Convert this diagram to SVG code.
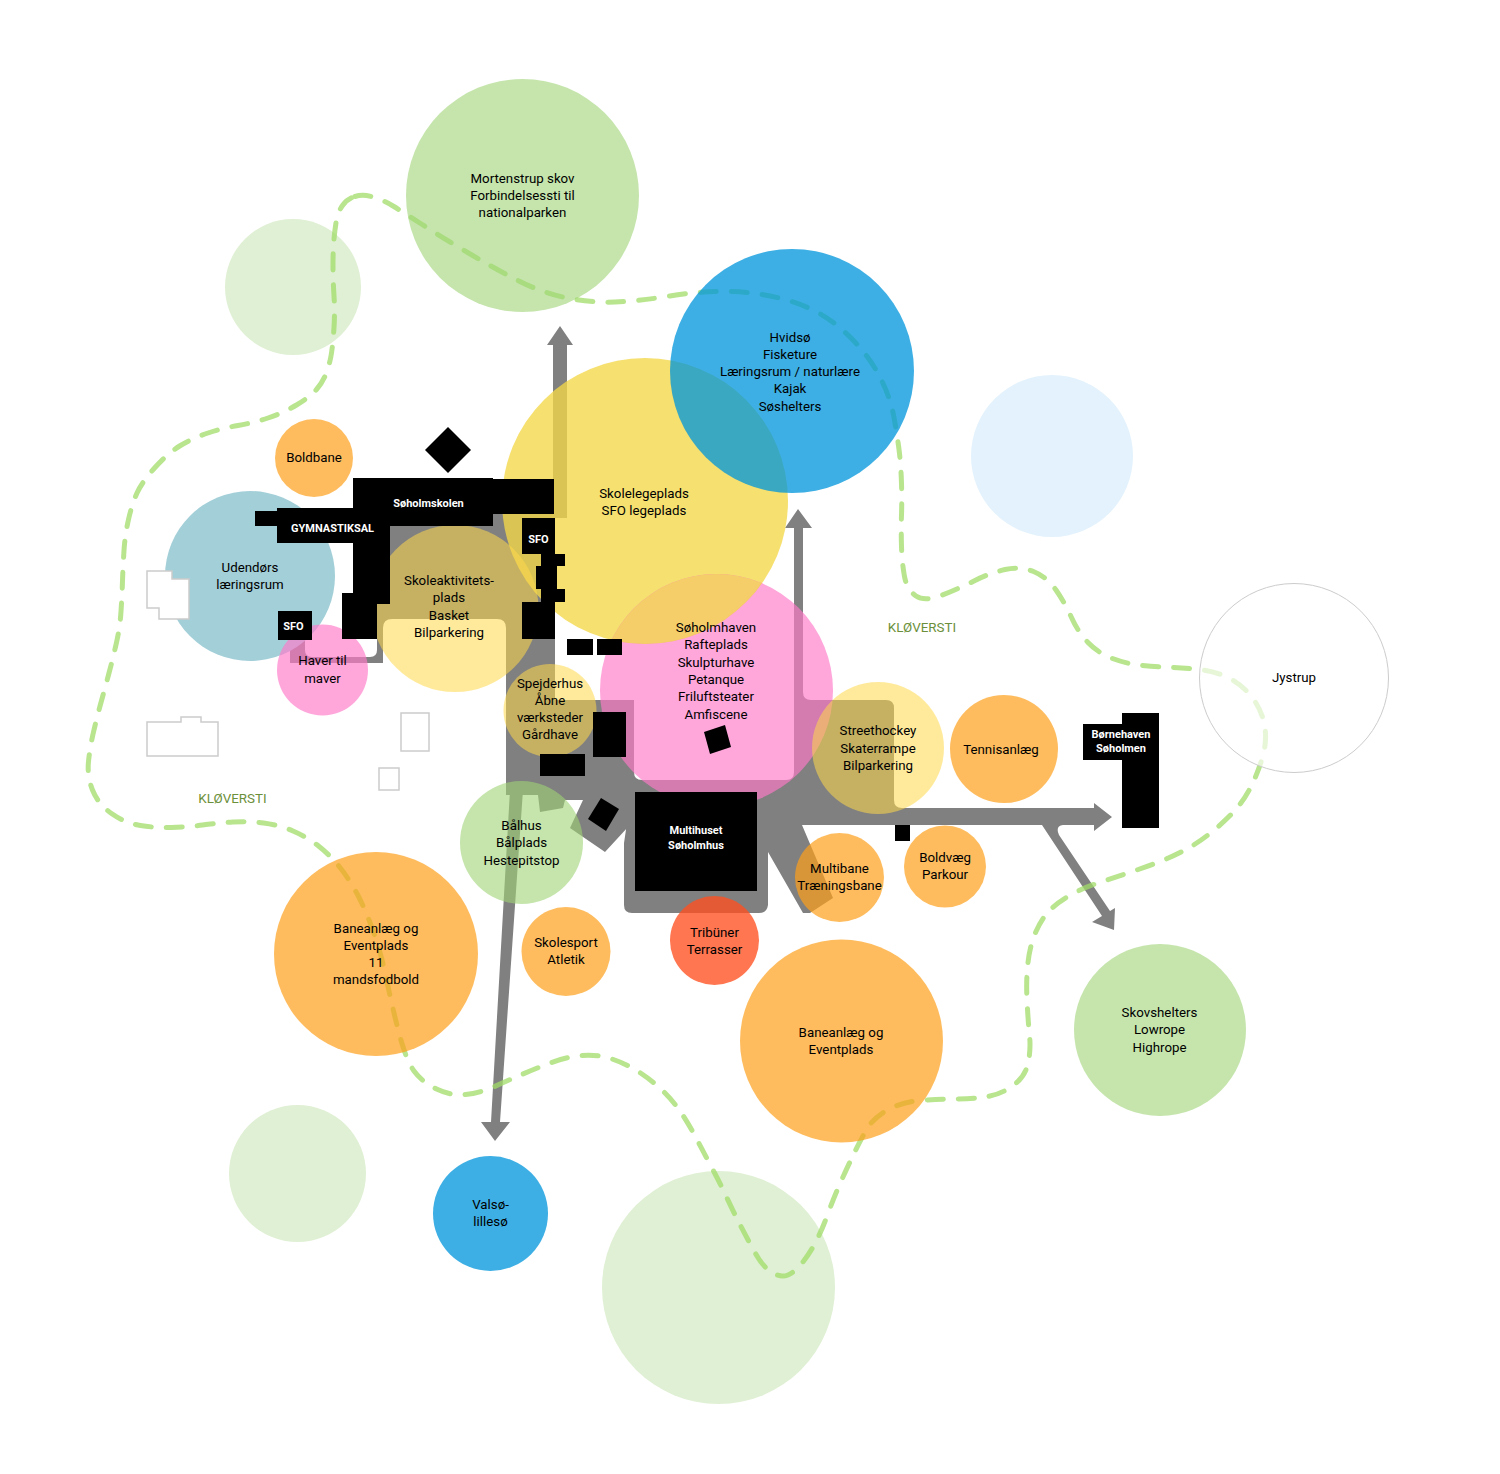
<svg xmlns="http://www.w3.org/2000/svg" width="1500" height="1474" viewBox="0 0 1500 1474">
<style>
text{font-family:Roboto,"Liberation Sans",sans-serif;font-size:13.3px;fill:#000;text-anchor:middle;transform:translateY(-.8px)}
.w{fill:#fff;font-weight:700;font-size:11px;transform:translateY(-.4px)}
.kl{fill:#6b8f3a;font-size:13.4px;transform:none}
.pg{fill:#e0f0d4}
.g{fill:#9fd475;fill-opacity:.6}
.b{fill:#0096dc;fill-opacity:.76}
.y{fill:#f2d748;fill-opacity:.78}
.yl{fill:#ffd84a;fill-opacity:.55}
.p{fill:#ff78c8;fill-opacity:.66}
.o{fill:#fd9f1a;fill-opacity:.7}
.bk{fill:#000}
.ol{fill:#fff;stroke:#ccc;stroke-width:1.5}
</style>
<defs><clipPath id="yellow-clip"><circle cx="645" cy="501" r="143"/></clipPath></defs>
<rect width="1500" height="1474" fill="#fff"/>
<g id="bg-circles">
<circle class="pg" cx="293" cy="287" r="68"/>
<circle cx="1052" cy="456" r="81" fill="#e3f2fc"/>
<circle class="pg" cx="297.5" cy="1173.5" r="68.5"/>
<circle class="pg" cx="718.5" cy="1287.5" r="116.5"/>
</g>
<g id="connectors">
<path id="road" fill="#808080" d="M553,345H547L560,326L573,345H567V518H555V700H634V772Q634,780 642,780H786Q794,780 794,772V528H785L798,509L812,528H803V692Q803,700 811,700H886Q894,700 894,708V800Q894,808 902,808H1094V803L1112,817L1094,831V825H1063Q1055,826 1059,835L1110,911L1115,908L1114,930L1092,922L1102,916L1042,825H802L833,898L810,913H803L768,852V905Q767,913 759,913H632Q624,913 624,905V843L627,823L628,827L605,852L570,828L583,800H565L563,808L540,812L538,795H506V628Q506,619 497,619H392Q383,619 383,628V663H290V640H305V650Q305,657 312,657H370Q377,657 377,650V514H553Z"/>
<path id="road-valso" fill="#808080" d="M510,790H523L500,1122H510L495,1141L481,1122H491Z"/>
<path id="kloversti" fill="none" stroke="#a0dc68" stroke-opacity=".75" stroke-width="5" stroke-linecap="round" stroke-dasharray="16 15" d="M355,196.5Q363,194 373,197Q383,200 393,206Q403,212 419,222.5Q435,233 462.5,249.5Q490,266 515,279Q540,292 565,297.5Q590,303 615,302Q640,301 670,296Q700,291 730,291.5Q760,292 790,301Q820,310 842.5,330Q865,350 877.5,372.5Q890,395 894,417.5Q898,440 899.5,453.5Q901,467 901.5,483.5Q902,500 901.5,515Q901,530 901.5,546.5Q902,563 904.5,576.5Q907,590 916,596Q925,602 942.5,595Q960,588 975,580.5Q990,573 1005,569.5Q1020,566 1033.5,571.5Q1047,577 1056,590Q1065,603 1071.5,617.5Q1078,632 1088,642.5Q1098,653 1112.5,658.5Q1127,664 1142.5,665.5Q1158,667 1173,667.5Q1188,668 1203,670Q1218,672 1231.5,679.5Q1245,687 1254,700Q1263,713 1265,728Q1267,743 1262,759Q1257,775 1250,788.5Q1243,802 1233,812.5Q1223,823 1210.5,833Q1198,843 1185,850Q1172,857 1157.5,862.5Q1143,868 1128,873Q1113,878 1098,883Q1083,888 1070.5,895Q1058,902 1050,910Q1042,918 1036,931.5Q1030,945 1028,962.5Q1026,980 1027,1000Q1028,1020 1029.5,1035Q1031,1050 1028,1063.5Q1025,1077 1012.5,1086Q1000,1095 985,1097Q970,1099 953.5,1099Q937,1099 919.5,1100.5Q902,1102 887.5,1110Q873,1118 866,1130.5Q859,1143 853,1155.5Q847,1168 840.5,1182.5Q834,1197 828,1213.5Q822,1230 816,1241.5Q810,1253 802.5,1262.5Q795,1272 788,1275Q781,1278 772,1272.5Q763,1267 755.5,1253.5Q748,1240 741,1226.5Q734,1213 727,1198Q720,1183 712.5,1169Q705,1155 698,1141.5Q691,1128 683,1115.5Q675,1103 664.5,1092.5Q654,1082 640.5,1073Q627,1064 612,1059Q597,1054 581.5,1055.5Q566,1057 551.5,1062.5Q537,1068 523,1074Q509,1080 494.5,1086.5Q480,1093 465.5,1094.5Q451,1096 436.5,1089Q422,1082 414,1071Q406,1060 399,1033Q392,1006 387,981.5Q382,957 374.5,935Q367,913 358.5,896.5Q350,880 340,867.5Q330,855 318.5,846Q307,837 293,831Q279,825 263.5,823Q248,821 233,822Q218,823 202.5,825Q187,827 171.5,827.5Q156,828 140.5,825.5Q125,823 111.5,813.5Q98,804 92.5,790Q87,776 88.5,761.5Q90,747 93.5,732Q97,717 101,702.5Q105,688 109,673Q113,658 116.5,642.5Q120,627 121,611.5Q122,596 122.5,581Q123,566 124,550.5Q125,535 128.5,519.5Q132,504 137,493Q142,482 155,467.5Q168,453 180.5,445.5Q193,438 208,433Q223,428 238,425.5Q253,423 268,418Q283,413 296.5,405Q310,397 316.5,389.5Q323,382 326.5,372.5Q330,363 331.5,353Q333,343 334,327.5Q335,312 334,296Q333,280 333,265Q333,250 334,239Q335,228 336.5,220Q338,212 342.5,205.5Q347,199 355,196.5Z"/>
</g>
<g id="node-mortenstrup"><circle class="g" cx="522.5" cy="195.5" r="116.5"/><text x="522.5" y="184">Mortenstrup skov</text><text x="522.5" y="201">Forbindelsessti til</text><text x="522.5" y="218">nationalparken</text></g>
<g id="node-skolelegeplads"><circle class="y" cx="645" cy="501" r="143"/><text x="644" y="499">Skolelegeplads</text><text x="644" y="516">SFO legeplads</text></g>
<g id="node-hvidso"><circle class="b" cx="792" cy="371" r="122"/><text x="790" y="343">Hvidsø</text><text x="790" y="360">Fisketure</text><text x="790" y="377">Læringsrum / naturlære</text><text x="790" y="394">Kajak</text><text x="790" y="412">Søshelters</text></g>
<g id="node-boldbane"><circle class="o" cx="314" cy="458" r="39"/><text x="314" y="463">Boldbane</text></g>
<g id="node-udendors"><circle cx="250" cy="576" r="85" fill="#a3cfd8"/><text x="250" y="573">Udendørs</text><text x="250" y="590">læringsrum</text></g>
<g id="node-skoleaktivitet"><circle class="yl" cx="455" cy="608.5" r="83.5"/><text x="449" y="586">Skoleaktivitets-</text><text x="449" y="603">plads</text><text x="449" y="621">Basket</text><text x="449" y="638">Bilparkering</text></g>
<g id="node-haver"><circle class="p" cx="322.5" cy="670" r="45.5"/><text x="322.5" y="666">Haver til</text><text x="322.5" y="684">maver</text></g>
<g id="node-soholmhaven"><circle class="p" cx="716.5" cy="690.5" r="116.5"/><circle cx="716.5" cy="690.5" r="116.5" fill="#f5cd69" clip-path="url(#yellow-clip)"/><text x="716" y="633">Søholmhaven</text><text x="716" y="650">Rafteplads</text><text x="716" y="668">Skulpturhave</text><text x="716" y="685">Petanque</text><text x="716" y="702">Friluftsteater</text><text x="716" y="720">Amfiscene</text></g>
<g id="node-spejderhus"><circle class="yl" cx="550" cy="710.5" r="46.5"/><text x="550" y="689">Spejderhus</text><text x="550" y="706">Åbne</text><text x="550" y="723">værksteder</text><text x="550" y="740">Gårdhave</text></g>
<g id="node-streethockey"><circle class="yl" cx="878" cy="748" r="66"/><text x="878" y="736">Streethockey</text><text x="878" y="754">Skaterrampe</text><text x="878" y="771">Bilparkering</text></g>
<g id="node-tennis"><circle class="o" cx="1004" cy="749" r="54"/><text x="1001" y="755">Tennisanlæg</text></g>
<g id="node-balhus"><circle class="g" cx="521.5" cy="842.5" r="61.5"/><text x="521.5" y="831">Bålhus</text><text x="521.5" y="848">Bålplads</text><text x="521.5" y="866">Hestepitstop</text></g>
<g id="node-multibane"><circle class="o" cx="839.5" cy="877.5" r="44.5"/><text x="839.5" y="874">Multibane</text><text x="839.5" y="891">Træningsbane</text></g>
<g id="node-boldvaeg"><circle class="o" cx="945" cy="866.5" r="41"/><text x="945" y="863">Boldvæg</text><text x="945" y="880">Parkour</text></g>
<g id="node-baneanlaeg-1"><circle class="o" cx="376" cy="954" r="102"/><text x="376" y="934">Baneanlæg og</text><text x="376" y="951">Eventplads</text><text x="376" y="968">11</text><text x="376" y="985">mandsfodbold</text></g>
<g id="node-skolesport"><circle class="o" cx="566" cy="951.5" r="44.5"/><text x="566" y="948">Skolesport</text><text x="566" y="965">Atletik</text></g>
<g id="node-tribuner"><circle cx="714.5" cy="940.5" r="44.5" fill="#ff4f1f" fill-opacity=".78"/><text x="714.5" y="938">Tribüner</text><text x="714.5" y="955">Terrasser</text></g>
<g id="node-baneanlaeg-2"><circle class="o" cx="841.5" cy="1041" r="101.5"/><text x="841" y="1038">Baneanlæg og</text><text x="841" y="1055">Eventplads</text></g>
<g id="node-skovshelters"><circle class="g" cx="1160" cy="1030" r="86"/><text x="1159.5" y="1018">Skovshelters</text><text x="1159.5" y="1035">Lowrope</text><text x="1159.5" y="1053">Highrope</text></g>
<g id="node-valso"><circle class="b" cx="490.5" cy="1213.5" r="57.5"/><text x="490.5" y="1210">Valsø-</text><text x="490.5" y="1227">lillesø</text></g>
<g id="node-jystrup"><circle cx="1294" cy="678" r="94.5" fill="#fff" fill-opacity=".65" stroke="#ccc" stroke-width="1"/><text x="1294" y="683">Jystrup</text></g>
<g id="outlines">
<path class="ol" d="M147,571H172V579H189V619H159V608H147Z"/>
<path class="ol" d="M147,722H181V717H201V722H218V756H147Z"/>
<rect class="ol" x="401" y="713" width="28" height="38"/>
<rect class="ol" x="379" y="768" width="20" height="22"/>
</g>
<g id="node-soholmskolen">
<path class="bk" d="M448,427L471,450L448,473L425,450Z"/>
<path class="bk" d="M353,478H493V479H554V514H493V526H390V604H377V639H342V593H353V543H277V526H255V511H277V508H353Z"/>
<text class="w" x="428.5" y="507">Søholmskolen</text>
<text class="w" x="332.5" y="532">GYMNASTIKSAL</text>
</g>
<g id="node-sfo-right"><path class="bk" d="M522,518H555V554H565V566H557V589H565V602H555V639H522V602H541V589H536V566H541V554H522Z"/><text class="w" x="538.5" y="543">SFO</text></g>
<g id="node-sfo-left"><rect class="bk" x="278" y="611" width="34" height="29"/><text class="w" x="293.5" y="630">SFO</text></g>
<g id="buildings">
<rect class="bk" x="567" y="639" width="26" height="16"/>
<rect class="bk" x="597" y="639" width="25" height="16"/>
<rect class="bk" x="593" y="712" width="33" height="45"/>
<rect class="bk" x="540" y="754" width="45" height="22"/>
<path class="bk" d="M601,798L619,809L606,831L588,819Z"/>
<path class="bk" d="M704,732L725,725L731,747L710,754Z"/>
<rect class="bk" x="895" y="825" width="15" height="16"/>
</g>
<g id="node-multihuset"><rect class="bk" x="635" y="792" width="122" height="99"/><text class="w" x="696" y="834">Multihuset</text><text class="w" x="696" y="849">Søholmhus</text></g>
<g id="node-bornehaven"><path class="bk" d="M1122,713H1159V828H1122V760H1083V724H1122Z"/><text class="w" x="1121" y="738">Børnehaven</text><text class="w" x="1121" y="752">Søholmen</text></g>
<text class="kl" x="922" y="632">KLØVERSTI</text>
<text class="kl" x="232.5" y="803">KLØVERSTI</text>
</svg>
